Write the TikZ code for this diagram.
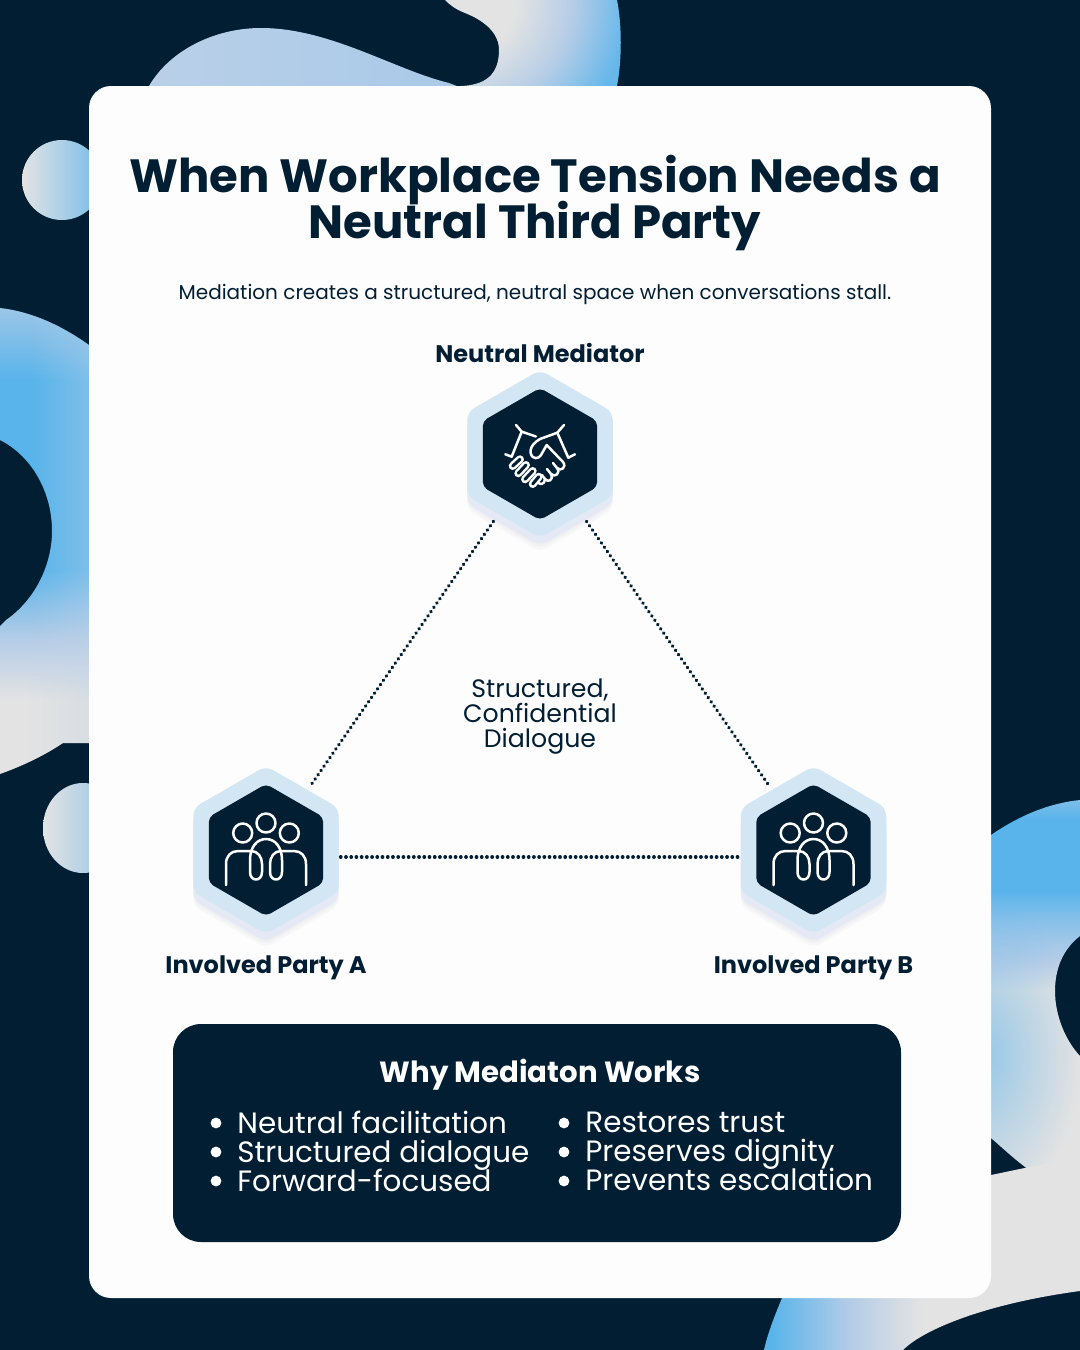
\documentclass[tikz,border=0pt]{standalone}
\usepackage{fontspec}
\setmainfont{Poppins}
\usetikzlibrary{shapes.geometric,fadings}
\lineskiplimit=-60pt
\definecolor{navy}{HTML}{021E33}
\definecolor{cardwhite}{HTML}{FDFDFD}
\definecolor{hexblue}{HTML}{D3E6F3}
\definecolor{hexlav}{HTML}{E4E9F5}
\definecolor{skyblue}{HTML}{58B4EB}
\definecolor{paleblue}{HTML}{B6CDE7}
\definecolor{softgrey}{HTML}{E3E3E3}
\pgfdeclareverticalshading{leftblobshade}{100bp}{color(0bp)=(softgrey); color(27bp)=(softgrey); color(35bp)=(softgrey); color(41bp)=(paleblue); color(48bp)=(skyblue); color(67bp)=(skyblue); color(74bp)=(paleblue!70!skyblue); color(100bp)=(paleblue)}
\pgfdeclareverticalshading{rightblobshade}{100bp}{color(0bp)=(softgrey); color(55bp)=(softgrey); color(58bp)=(paleblue); color(62bp)=(skyblue!50!paleblue); color(65bp)=(skyblue); color(72bp)=(skyblue); color(74.5bp)=(skyblue!50!paleblue); color(100bp)=(paleblue)}
\pgfdeclarehorizontalshading{bandshade}{100bp}{color(0bp)=(skyblue); color(26bp)=(skyblue); color(39bp)=(paleblue); color(50bp)=(softgrey); color(100bp)=(softgrey)}
\pgfdeclareradialshading{topblobshade}{\pgfpoint{0bp}{0bp}}{color(0bp)=(softgrey); color(7bp)=(softgrey); color(14bp)=(paleblue); color(21bp)=(skyblue!85!paleblue); color(50bp)=(skyblue)}
\tikzfading[name=fadeleftedge, left color=transparent!100, right color=transparent!65]
\tikzfading[name=fadeglow, inner color=transparent!30, outer color=transparent!100]
\tikzset{
	hexouter/.style={regular polygon, regular polygon sides=6, regular polygon rotate=30, minimum size=84pt, inner sep=0pt, outer sep=0pt, fill=hexblue, rounded corners=4pt},
	hexinner/.style={regular polygon, regular polygon sides=6, regular polygon rotate=30, minimum size=66pt, inner sep=0pt, outer sep=0pt, fill=navy, rounded corners=2.5pt},
	hexlower/.style={hexouter, fill=hexlav},
	hexhalo/.style={hexouter, fill=navy, fill opacity=0.025},
	dotline/.style={navy, line width=1.9pt, line cap=round, dash pattern=on 0.01pt off 2.6pt},
	iconline/.style={white, line width=1.25pt, line cap=round, line join=round},
	bigtitle/.style={navy, font=\bfseries\fontsize{23.3}{23}\selectfont, align=center},
	partylabel/.style={navy, font=\bfseries\fontsize{12}{12}\selectfont},
	listtext/.style={white, font=\fontsize{14.7}{14.5}\selectfont, align=left, anchor=west, inner sep=0pt},
	bulletdot/.style={circle, fill=white, minimum size=5.4pt, inner sep=0pt},
	people/.pic={
		\draw[iconline] (0,-29) circle[radius=9.5];
		\draw[iconline] (-23.3,-19) circle[radius=9.5];
		\draw[iconline] (23.3,-19) circle[radius=9.5];
		\draw[iconline] (-40,33)--(-40,12) .. controls (-40,4) and (-35,-1) .. (-28,-1)--(-15,-1) .. controls (-8,-1) and (-4,5) .. (-4,12)--(-4,20) .. controls (-4,30) and (-16,30) .. (-16,20)--(-16,8) .. controls (-16,-5) and (-9,-13) .. (0,-13) .. controls (9,-13) and (16,-5) .. (16,8)--(16,20) .. controls (16,30) and (4,30) .. (4,20)--(4,12) .. controls (4,5) and (8,-1) .. (15,-1)--(28,-1) .. controls (35,-1) and (40,4) .. (40,12)--(40,33);
	},
	handshake/.pic={
		\draw[iconline] (-24,-29)--(-18.3,-22.3)--(-28.3,2.7);
		\draw[iconline] (24,-29)--(17.3,-21.3)--(28.3,3.7);
		\draw[iconline] (-34.7,0.3)--(-28.3,2.7);
		\draw[iconline] (35,0.3)--(28.3,3.7);
		\draw[iconline] (-18.3,-22.3)--(-4,-17.5);
		\draw[iconline] (17.3,-21.3)--(0,-15) .. controls (-5,-12) and (-9,-8) .. (-9.3,-4)--(-9.3,-1) .. controls (-8,6) and (-1,5) .. (1,1)--(6.7,-9)--(23,8) .. controls (27,13) and (21,18) .. (17,14)--(13,9);
		\draw[iconline] (17,14) .. controls (21,19) and (15,24) .. (11,20)--(7,15);
		\draw[iconline] (11,20) .. controls (14,26) and (8,29) .. (5,25)--(2,21);
		\draw[iconline] (5,25) .. controls (5,31) and (-1,31) .. (-2,28);
		\foreach \xa/\ya/\xb/\yb in {-27.3/12/-20/5.3, -21.7/19.3/-14/11, -15/25.3/-7.3/17, -7.3/30/-1.3/22.7}{
			\draw[white, line width=4pt, line cap=round] (\xa,\ya)--(\xb,\yb);
			\draw[navy, line width=1.5pt, line cap=round] (\xa,\ya)--(\xb,\yb);
		}
	}
}
\begin{document}
\begin{tikzpicture}[x=0.5pt,y=-0.5pt]
	\useasboundingbox (0,0) rectangle (1080,1350);
	\fill[navy] (0,0) rectangle (1080,1350);

	\shade[left color=paleblue!95!white, right color=paleblue!85!skyblue] (149,86) .. controls (170,50) and (215,28) .. (261,28) .. controls (330,28) and (395,70) .. (449,83) .. controls (455,85) and (460,88) .. (470,90)--(470,100)--(149,100)--cycle;
	\begin{scope}
		\clip (445,0) .. controls (450,5) and (455,9) .. (465,13) .. controls (475,17) and (499,28) .. (499,50) .. controls (499,75) and (485,85) .. (461,86)--(461,100)--(617,100)--(617,86) .. controls (622,60) and (622,25) .. (617,0)--cycle;
		\shade[shading=topblobshade] (260,-200) rectangle (660,200);
	\end{scope}

	\shade[left color=softgrey, right color=skyblue!70!paleblue] (62,180) circle[radius=40];
	\shade[left color=softgrey, right color=skyblue!45!paleblue] (83,828) ellipse[x radius=40, y radius=45];

	\begin{scope}
		\clip (0,308) .. controls (35,312) and (65,328) .. (89,345)--(100,345)--(100,743)--(63,743) .. controls (45,755) and (25,765) .. (0,774)--(0,626)--(6,620) .. controls (35,600) and (52,565) .. (52,531) .. controls (52,490) and (30,455) .. (0,440)--cycle;
		\shade[shading=leftblobshade] (0,300) rectangle (100,800);
		\fill[paleblue!70!softgrey, path fading=fadeleftedge] (30,300) rectangle (89,760);
	\end{scope}

	\begin{scope}
		\clip (960,850)--(991,835) .. controls (1020,815) and (1050,803) .. (1080,800)--(1080,936) .. controls (1062,950) and (1055,970) .. (1055,991) .. controls (1055,1015) and (1065,1040) .. (1080,1056)--(1080,1172)--(1032,1172) .. controls (1015,1160) and (1005,1150) .. (991,1138)--(960,1110)--cycle;
		\shade[shading=rightblobshade] (960,790) rectangle (1080,1290);
		\fill[skyblue!70!paleblue, path fading=fadeglow] (880,900) rectangle (1080,1210);
	\end{scope}
	\shade[shading=bandshade] (782,1298) .. controls (775,1315) and (768,1332) .. (764,1350)--(903,1350) .. controls (925,1328) and (990,1303) .. (1080,1291)--(1080,1160) .. controls (1050,1162) and (1025,1168) .. (991,1175)--(800,1190)--cycle;

	\fill[cardwhite, rounded corners=11pt] (89,86) rectangle (991,1298);
	\fill[navy, rounded corners=14pt] (173,1024) rectangle (901,1242);

	\node[bigtitle] (title) at (535,203) {When Workplace Tension Needs a\\Neutral Third Party};
	\node[navy, font=\fontsize{10}{12}\selectfont] (subtitle) at (535,294) {Mediation creates a structured, neutral space when conversations stall.};

	\foreach \cx/\cy/\nm in {540/454/mediator, 266/850/partyA, 813.5/850/partyB}{
		\node[hexhalo] (halo1\nm) at (\cx,\cy+14) {};
		\node[hexhalo] (halo2\nm) at (\cx,\cy+11) {};
		\node[hexlower] (lower\nm) at (\cx,\cy+8) {};
		\node[hexouter] (\nm) at (\cx,\cy) {};
		\node[hexinner] (inner\nm) at (\cx,\cy) {};
	}
	\pic at (mediator) {handshake};
	\pic at ([yshift=-1pt]partyA) {people};
	\pic at ([yshift=-1pt]partyB) {people};

	\draw[dotline, shorten <=4.5pt, shorten >=2.5pt] (mediator)--(partyA);
	\draw[dotline, shorten <=4.5pt, shorten >=2.5pt] (mediator)--(partyB);
	\draw[dotline, shorten <=1pt, shorten >=1pt] ([yshift=-3.5pt]partyA.east)--([yshift=-3.5pt]partyB.west);

	\node[partylabel] (mediatorlabel) at (540,353) {Neutral Mediator};
	\node[partylabel] (partyAlabel) at (266,967.5) {Involved Party A};
	\node[partylabel] (partyBlabel) at (813.5,967.5) {Involved Party B};
	\node[navy, font=\fontsize{12.6}{12.5}\selectfont, align=center] (dialogue) at (540,717) {Structured,\\Confidential\\Dialogue};

	\node[white, font=\bfseries\fontsize{14.6}{16}\selectfont] (whyhead) at (540,1075) {Why Mediaton Works};
	\node[listtext] (listleft) at (237,1151.5) {Neutral facilitation\\Structured dialogue\\Forward-focused};
	\node[listtext] (listright) at (585,1151.5) {Restores trust\\Preserves dignity\\Prevents escalation};
	\foreach \i/\dx/\dy in {1/216/1123, 2/216/1152, 3/216/1181, 4/564/1123, 5/564/1152, 6/564/1181}{
		\node[bulletdot] (dot\i) at (\dx,\dy) {};
	}
\end{tikzpicture}
\end{document}
